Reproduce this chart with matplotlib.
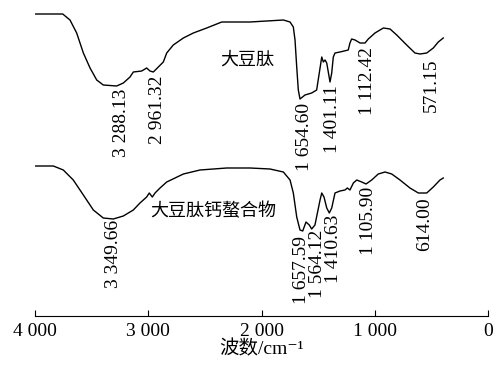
import matplotlib
matplotlib.use('Agg')
import matplotlib.pyplot as plt

plt.rcParams['font.family'] = ['Liberation Serif', 'DejaVu Serif', 'Noto Sans CJK SC']

# 大豆肽 (wavenumber cm-1, transmittance a.u.)
wn_pep = [4000, 3755, 3691, 3632, 3573, 3514, 3455, 3397, 3279, 3220, 3161, 3132,
          3058, 3014, 2985, 2955, 2911, 2867, 2837, 2779, 2690, 2602, 2484, 2351,
          2102, 1807, 1748, 1719, 1704, 1689, 1675, 1660, 1616, 1557, 1513, 1468,
          1454, 1439, 1424, 1395, 1380, 1366, 1351, 1307, 1234, 1219, 1204, 1174,
          1130, 1086, 1057, 998, 924, 865, 806, 718, 645, 600, 541, 483, 439, 395]
t_pep = [302, 302, 296, 283, 263, 248, 236, 231, 230, 233, 239, 244,
         245, 248, 245, 244, 249, 254, 263, 271, 278, 283, 288, 294,
         294, 296, 294, 289, 276, 249, 226, 217, 221, 223, 226, 259,
         254, 256, 253, 234, 243, 259, 263, 264, 266, 273, 277, 276,
         273, 273, 277, 283, 288, 287, 281, 271, 263, 262, 263, 268, 274, 278]

# 大豆肽钙螯合物
wn_ca = [4000, 3838, 3750, 3662, 3573, 3485, 3397, 3309, 3220, 3132, 3073, 3014,
         2991, 2964, 2940, 2896, 2837, 2690, 2543, 2307, 2102, 1925, 1807, 1748,
         1719, 1689, 1660, 1636, 1607, 1578, 1557, 1528, 1483, 1468, 1448, 1424,
         1401, 1380, 1351, 1307, 1263, 1242, 1219, 1189, 1159, 1115, 1077, 1027,
         969, 909, 850, 777, 689, 615, 541, 483, 424, 395]
t_ca = [150, 150, 146, 136, 121, 106, 98, 97, 100, 106, 113, 119,
        123, 119, 123, 128, 134, 142, 146, 148, 148, 147, 144, 136,
        123, 99, 86, 85, 94, 91, 87, 91, 116, 123, 119, 108,
        103, 108, 123, 125, 126, 128, 126, 133, 136, 134, 132, 136,
        142, 144, 142, 136, 128, 123, 123, 129, 136, 138]

# peak labels: (x, y top, text)
lab_pep = [(3232, 227, '3 288.13'), (2914, 241, '2 961.32'), (1616, 213, '1 654.60'),
           (1369, 231, '1 401.11'), (1060, 269, '1 112.42'), (503, 258, '571.15')]
lab_ca = [(3311, 96, '3 349.66'), (1650, 80, '1 657.59'), (1505, 86, '1 564.12'),
          (1362, 101, '1 410.63'), (1051, 129, '1 105.90'), (556, 119, '614.00')]

xticks = [4000, 3000, 2000, 1000, 0]
xticklabels = ['4 000', '3 000', '2 000', '1 000', '0']

fig = plt.figure(figsize=(4.96, 3.65), dpi=100)
ax = fig.add_axes([35/496, 49/365, 453/496, 311/365])

ax.plot(wn_pep, t_pep, color='black', lw=1.0)
ax.plot(wn_ca, t_ca, color='black', lw=1.0)

fs = 14
for x, y, s in lab_pep + lab_ca:
    ax.text(x, y, s, rotation=90, ha='center', va='top', fontsize=fs)

ax.text(2128, 256, '大豆肽', ha='center', va='center', fontsize=fs - 1)
ax.text(2985, 104, '大豆肽钙螯合物', ha='left', va='center', fontsize=fs - 1)

ax.set_xlim(4000, 0)
ax.set_ylim(0, 311)
ax.set_xticks(xticks)
ax.set_xticklabels(xticklabels, fontsize=fs)
ax.set_yticks([])
ax.tick_params(axis='x', direction='in', length=4, width=0.8, pad=5)
for side in ['top', 'left', 'right']:
    ax.spines[side].set_visible(False)
ax.spines['bottom'].set_linewidth(0.8)
ax.set_xlabel('波数/cm⁻¹', fontsize=fs, labelpad=0)

fig.savefig('out.png', dpi=100)
